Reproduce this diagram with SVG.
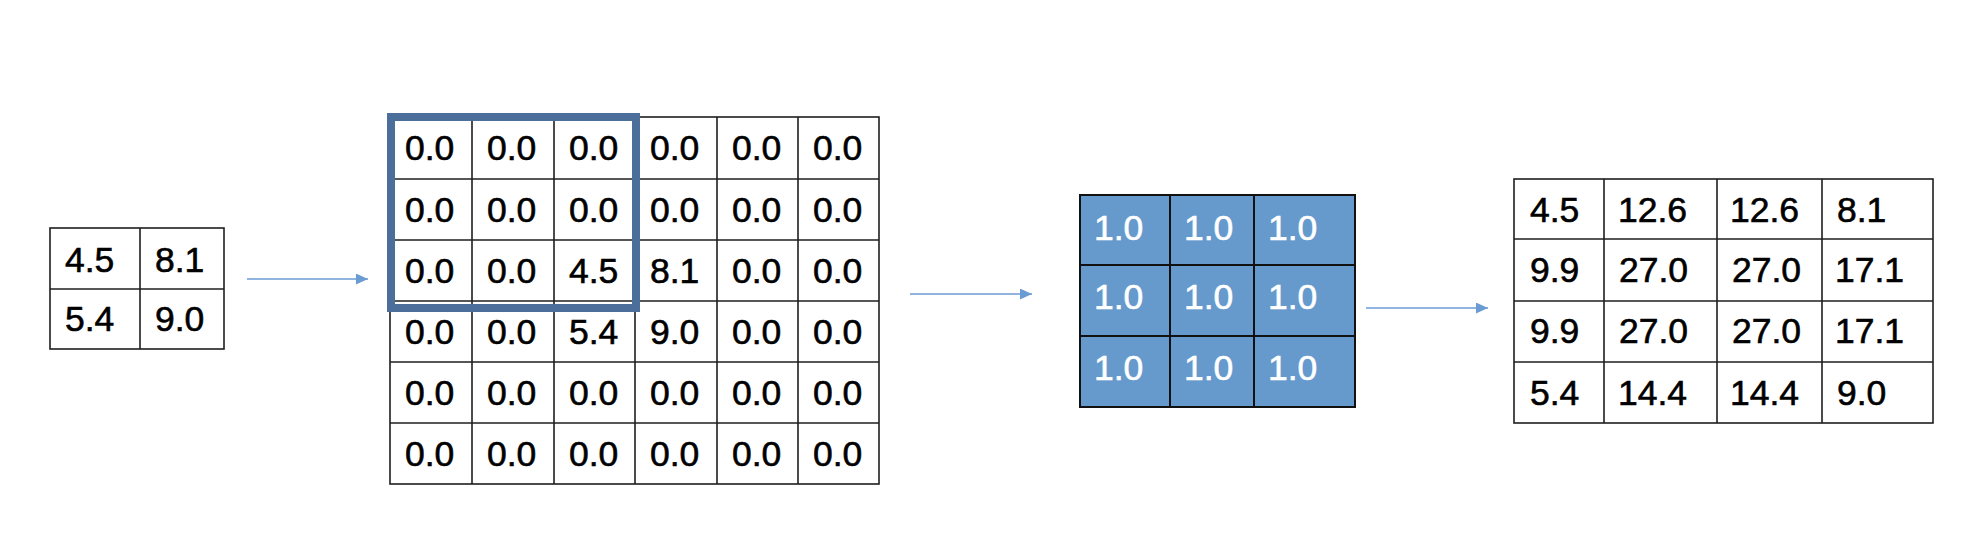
<svg xmlns="http://www.w3.org/2000/svg" width="1982" height="542" viewBox="0 0 1982 542">
<style>
.grid{fill:#fff;stroke:#1e1e1e;stroke-width:1.6}
.ln{stroke:#1e1e1e;stroke-width:1.6}
.t{font-family:"Liberation Sans",Arial,sans-serif;font-size:35.5px;fill:#000;stroke:#000;stroke-width:0.6}
.w{fill:#fff;stroke:#fff}
.k{fill:#6699cc;stroke:#111;stroke-width:2}
.kl{stroke:#111;stroke-width:2}
.hl{fill:none;stroke:#4b6e9b;stroke-width:8}
.arr{stroke:#6a9bd3;stroke-width:1.6;fill:none}
</style>
<defs>
<marker id="ah" viewBox="0 0 12 11" refX="12" refY="5.5" markerWidth="12" markerHeight="11" markerUnits="userSpaceOnUse" orient="auto">
<path d="M0,0 L12,5.5 L0,11 Z" fill="#6a9bd3"/>
</marker>
</defs>
<rect width="1982" height="542" fill="#fff"/>

<g id="input">
<rect class="grid" x="50" y="228" width="174" height="121"/>
<line class="ln" x1="140" y1="228" x2="140" y2="349"/>
<line class="ln" x1="50" y1="289" x2="224" y2="289"/>
<text class="t" x="65" y="272">4.5</text>
<text class="t" x="155" y="272">8.1</text>
<text class="t" x="65" y="331">5.4</text>
<text class="t" x="155" y="331">9.0</text>
</g>

<g id="padded">
<rect class="grid" x="390" y="117" width="489" height="367"/>
<line class="ln" x1="472" y1="117" x2="472" y2="484"/>
<line class="ln" x1="554" y1="117" x2="554" y2="484"/>
<line class="ln" x1="635" y1="117" x2="635" y2="484"/>
<line class="ln" x1="717" y1="117" x2="717" y2="484"/>
<line class="ln" x1="798" y1="117" x2="798" y2="484"/>
<line class="ln" x1="390" y1="179" x2="879" y2="179"/>
<line class="ln" x1="390" y1="240" x2="879" y2="240"/>
<line class="ln" x1="390" y1="301" x2="879" y2="301"/>
<line class="ln" x1="390" y1="362" x2="879" y2="362"/>
<line class="ln" x1="390" y1="423" x2="879" y2="423"/>
<g class="t">
<text x="405" y="160">0.0</text><text x="487" y="160">0.0</text><text x="569" y="160">0.0</text><text x="650" y="160">0.0</text><text x="732" y="160">0.0</text><text x="813" y="160">0.0</text>
<text x="405" y="222">0.0</text><text x="487" y="222">0.0</text><text x="569" y="222">0.0</text><text x="650" y="222">0.0</text><text x="732" y="222">0.0</text><text x="813" y="222">0.0</text>
<text x="405" y="283">0.0</text><text x="487" y="283">0.0</text><text x="569" y="283">4.5</text><text x="650" y="283">8.1</text><text x="732" y="283">0.0</text><text x="813" y="283">0.0</text>
<text x="405" y="344">0.0</text><text x="487" y="344">0.0</text><text x="569" y="344">5.4</text><text x="650" y="344">9.0</text><text x="732" y="344">0.0</text><text x="813" y="344">0.0</text>
<text x="405" y="405">0.0</text><text x="487" y="405">0.0</text><text x="569" y="405">0.0</text><text x="650" y="405">0.0</text><text x="732" y="405">0.0</text><text x="813" y="405">0.0</text>
<text x="405" y="466">0.0</text><text x="487" y="466">0.0</text><text x="569" y="466">0.0</text><text x="650" y="466">0.0</text><text x="732" y="466">0.0</text><text x="813" y="466">0.0</text>
</g>
<rect class="hl" x="391" y="117" width="245" height="191"/>
</g>

<g id="kernel">
<rect class="k" x="1080" y="195" width="275" height="212"/>
<line class="kl" x1="1170" y1="195" x2="1170" y2="407"/>
<line class="kl" x1="1254" y1="195" x2="1254" y2="407"/>
<line class="kl" x1="1080" y1="265" x2="1355" y2="265"/>
<line class="kl" x1="1080" y1="336" x2="1355" y2="336"/>
<g class="t w">
<text x="1094" y="240">1.0</text><text x="1184" y="240">1.0</text><text x="1268" y="240">1.0</text>
<text x="1094" y="309">1.0</text><text x="1184" y="309">1.0</text><text x="1268" y="309">1.0</text>
<text x="1094" y="380">1.0</text><text x="1184" y="380">1.0</text><text x="1268" y="380">1.0</text>
</g>
</g>

<g id="output">
<rect class="grid" x="1514" y="179" width="419" height="244"/>
<line class="ln" x1="1604" y1="179" x2="1604" y2="423"/>
<line class="ln" x1="1717" y1="179" x2="1717" y2="423"/>
<line class="ln" x1="1822" y1="179" x2="1822" y2="423"/>
<line class="ln" x1="1514" y1="239" x2="1933" y2="239"/>
<line class="ln" x1="1514" y1="301" x2="1933" y2="301"/>
<line class="ln" x1="1514" y1="362" x2="1933" y2="362"/>
<g class="t">
<text x="1530" y="222">4.5</text><text x="1618" y="222">12.6</text><text x="1730" y="222">12.6</text><text x="1837" y="222">8.1</text>
<text x="1530" y="282">9.9</text><text x="1619" y="282">27.0</text><text x="1732" y="282">27.0</text><text x="1835" y="282">17.1</text>
<text x="1530" y="343">9.9</text><text x="1619" y="343">27.0</text><text x="1732" y="343">27.0</text><text x="1835" y="343">17.1</text>
<text x="1530" y="405">5.4</text><text x="1618" y="405">14.4</text><text x="1730" y="405">14.4</text><text x="1837" y="405">9.0</text>
</g>
</g>

<g id="connectors">
<line class="arr" x1="247" y1="279" x2="368" y2="279" marker-end="url(#ah)"/>
<line class="arr" x1="910" y1="294" x2="1032" y2="294" marker-end="url(#ah)"/>
<line class="arr" x1="1366" y1="308" x2="1488" y2="308" marker-end="url(#ah)"/>
</g>
</svg>
